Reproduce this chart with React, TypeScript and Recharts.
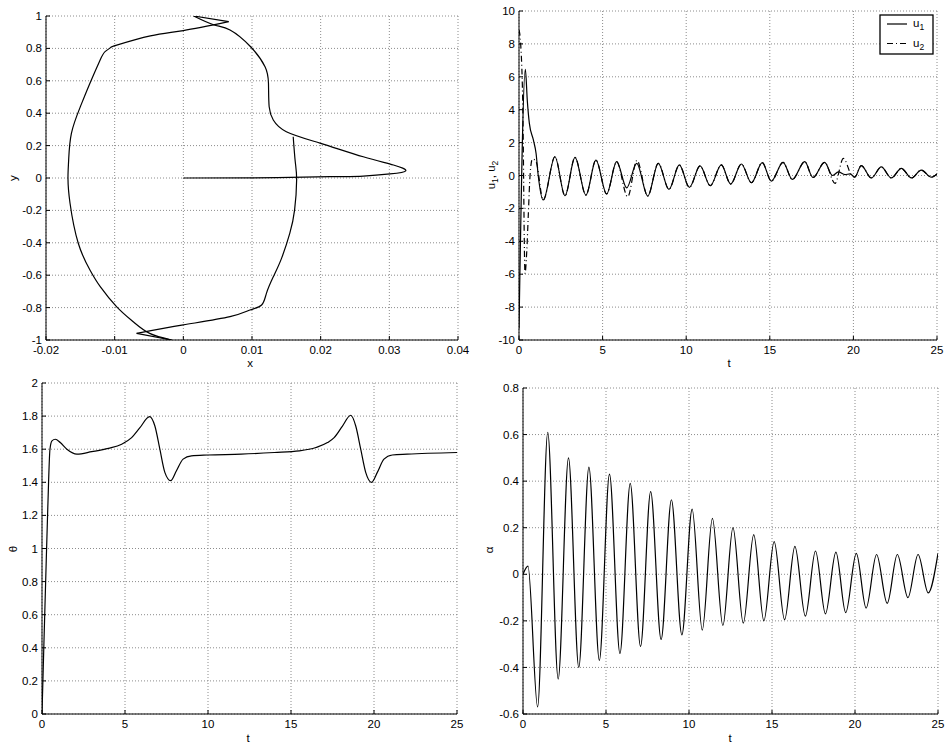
import React from "react";
import { CartesianGrid, Line, LineChart, XAxis, YAxis } from "recharts";

const FONT = '"Liberation Sans", Arial, Helvetica, sans-serif';

// top left: trajectory in the x-y plane (in drawing order)
const trajX = [
  0, 0.01, 0.0214, 0.0262, 0.0301, 0.0324, 0.0306, 0.0262, 0.02, 0.015, 0.0131, 0.0125, 0.0124, 0.0119,
  0.0098, 0.0068, 0.0044, 0.0015, 0.0066, 0, -0.0048, -0.0097, -0.0106, -0.0114, -0.0121, -0.0136, -0.015,
  -0.0163, -0.0167, -0.0168, -0.0165, -0.0153, -0.0136, -0.0121, -0.0097, -0.0073, -0.0049, -0.0017,
  -0.0068, 0, 0.0068, 0.0097, 0.0114, 0.0121, 0.0131, 0.0143, 0.0155, 0.0162, 0.0165, 0.0163, 0.016
];
const trajY = [
  0, 0.001, 0.008, 0.012, 0.025, 0.045, 0.08, 0.131, 0.214, 0.286, 0.358, 0.44, 0.584, 0.687,
  0.81, 0.914, 0.946, 1.0, 0.965, 0.91, 0.877, 0.82, 0.805, 0.78, 0.73, 0.585, 0.44,
  0.276, 0.111, 0, -0.156, -0.403, -0.568, -0.671, -0.795, -0.887, -0.959, -1.0,
  -0.959, -0.907, -0.856, -0.815, -0.784, -0.712, -0.61, -0.496, -0.342, -0.198, -0.012, 0.1, 0.255
];
// indices where the path turns sharply (top and bottom wedges)
const trajCorners = [17, 18, 37, 38];
const trajTicksX = [-0.02, -0.01, 0, 0.01, 0.02, 0.03, 0.04];
const trajTicksY = [-1, -0.8, -0.6, -0.4, -0.2, 0, 0.2, 0.4, 0.6, 0.8, 1];

// top right: controls u1 (solid) and u2 (dash-dot)
const u1T = [
  0, 0.38, 0.5, 0.62, 0.86, 1.02, 1.15, 1.45, 2.15, 2.75, 3.35, 4.0, 4.6, 5.24, 5.84, 6.44, 7.04, 7.7,
  8.33, 8.97, 9.59, 10.19, 10.83, 11.44, 12.1, 12.66, 13.3, 13.9, 14.55, 15.09, 15.79, 16.35, 17.09,
  17.58, 18.28, 18.75, 19.1, 19.5, 19.8, 20.08, 20.47, 21.07, 21.67, 22.27, 22.87, 23.47, 24.06, 24.66, 25
];
const u1V = [
  -9.3, 6.45, 4.5, 3.17, 2.16, 1.35, 0, -1.49, 1.14, -1.23, 1.1, -1.19, 0.94, -1.12, 0.84, -0.75, 0.74, -1.25,
  0.74, -0.84, 0.64, -0.72, 0.58, -0.62, 0.64, -0.52, 0.7, -0.44, 0.78, -0.34, 0.8, -0.24, 0.84,
  -0.12, 0.8, 0.0, 0.22, 0.05, 0.1, -0.1, 0.6, -0.15, 0.52, -0.15, 0.43, -0.15, 0.33, -0.1, 0.1
];
const u2T = [
  0, 0.1, 0.22, 0.36, 0.46, 0.56, 0.66, 0.8, 1.0, 1.45, 2.15, 2.75, 3.35, 4.0, 4.6, 5.24, 5.84, 6.5, 7.05,
  7.7, 8.33, 8.97, 9.59, 10.19, 10.83, 11.44, 12.1, 12.66, 13.3, 13.9, 14.55, 15.09, 15.79, 16.35, 17.09,
  17.58, 18.28, 18.9, 19.4, 19.9, 20.08, 20.47, 21.07, 21.67, 22.27, 22.87, 23.47, 24.06, 24.66, 25
];
const u2V = [
  8.85, 8.0, 4.6, -5.95, -4.7, -2.3, 0, 1.0, 0.9, -1.49, 1.14, -1.23, 1.1, -1.19, 0.94, -1.12, 0.84, -1.3, 0.92,
  -1.25, 0.74, -0.84, 0.64, -0.72, 0.58, -0.62, 0.64, -0.52, 0.7, -0.44, 0.78, -0.34, 0.8, -0.24, 0.84,
  -0.12, 0.8, -0.48, 1.04, 0.0, -0.1, 0.6, -0.15, 0.52, -0.15, 0.43, -0.15, 0.33, -0.1, 0.1
];
const uTicksY = [-10, -8, -6, -4, -2, 0, 2, 4, 6, 8, 10];
const tTicks = [0, 5, 10, 15, 20, 25];

// bottom left: theta
const thetaT = [
  0, 0.1, 0.22, 0.35, 0.48, 0.6, 0.8, 1.1, 1.5, 2.1, 3, 4, 4.8, 5.4, 5.9, 6.48, 6.8, 7.1, 7.4, 7.75, 8.1,
  8.5, 9, 10, 12, 14, 15.5, 16.5, 17.2, 17.6, 18.1, 18.6, 18.9, 19.2, 19.5, 19.85, 20.2, 20.6, 21.1, 22, 25
];
const thetaV = [
  0, 0.37, 0.8, 1.25, 1.6, 1.65, 1.66, 1.64, 1.6, 1.57, 1.585, 1.605, 1.63, 1.67, 1.73, 1.797, 1.74, 1.6,
  1.46, 1.41, 1.47, 1.54, 1.56, 1.565, 1.57, 1.58, 1.59, 1.61, 1.64, 1.67, 1.74, 1.805, 1.74, 1.6, 1.46,
  1.4, 1.46, 1.54, 1.565, 1.57, 1.58
];
const thetaTicks = [0, 0.2, 0.4, 0.6, 0.8, 1, 1.2, 1.4, 1.6, 1.8, 2];

// bottom right: alpha
const alphaT = [
  0, 0.3, 0.88, 1.49, 2.12, 2.74, 3.36, 3.97, 4.6, 5.21, 5.84, 6.46, 7.08, 7.69, 8.32, 8.94, 9.57, 10.19,
  10.8, 11.41, 12.04, 12.65, 13.27, 13.9, 14.51, 15.13, 15.76, 16.38, 17.01, 17.62, 18.22, 18.85, 19.44,
  20.08, 20.67, 21.3, 21.94, 22.55, 23.19, 23.8, 24.41, 25
];
const alphaV = [
  0, 0.035, -0.57, 0.61, -0.45, 0.5, -0.4, 0.46, -0.37, 0.43, -0.34, 0.39, -0.31, 0.355, -0.28, 0.32, -0.26,
  0.28, -0.24, 0.24, -0.22, 0.2, -0.21, 0.17, -0.2, 0.14, -0.195, 0.12, -0.18, 0.1, -0.17, 0.095, -0.165,
  0.09, -0.145, 0.085, -0.125, 0.085, -0.1, 0.085, -0.08, 0.09
];
const alphaTicks = [-0.6, -0.4, -0.2, 0, 0.2, 0.4, 0.6, 0.8];

type Pt = { x: number; y: number };
const zip = (xs: number[], ys: number[]): Pt[] => xs.map((x, i) => ({ x, y: ys[i] }));

type Curve = "linear" | "monotone" | "natural";

interface Series {
  data: Pt[];
  curve: Curve;
  dash?: string;
}

// split the trajectory at its sharp corners: smooth pieces between, straight pieces across the wedges
function trajectorySeries(): Series[] {
  const pts = zip(trajX, trajY);
  const cuts = [0, ...trajCorners, pts.length - 1];
  const out: Series[] = [];
  for (let i = 0; i < cuts.length - 1; i++) {
    const piece = pts.slice(cuts[i], cuts[i + 1] + 1);
    out.push({ data: piece, curve: piece.length > 2 ? "natural" : "linear" });
  }
  return out;
}

interface PanelProps {
  left: number;
  top: number;
  width: number;
  height: number;
  xDomain: [number, number];
  yDomain: [number, number];
  xTicks: number[];
  yTicks: number[];
  series: Series[];
}

const tickStyle = { fill: "#000", fontSize: 11.5, fontFamily: FONT };

function Panel({ left, top, width, height, xDomain, yDomain, xTicks, yTicks, series }: PanelProps) {
  const YW = 44;
  const MT = 10;
  const MR = 14;
  const XH = 24;
  return (
    <div style={{ position: "absolute", left: left - YW, top: top - MT }}>
      <LineChart
        width={YW + width + MR}
        height={MT + height + XH}
        margin={{ top: MT, right: MR, bottom: 0, left: 0 }}
      >
        <CartesianGrid stroke="#8c8c8c" strokeDasharray="1 2" />
        <XAxis
          dataKey="x"
          type="number"
          domain={xDomain}
          ticks={xTicks}
          interval={0}
          allowDataOverflow
          height={XH}
          tickSize={-4}
          tickMargin={10}
          axisLine={{ stroke: "#000" }}
          tickLine={{ stroke: "#000" }}
          tick={tickStyle}
        />
        <YAxis
          type="number"
          domain={yDomain}
          ticks={yTicks}
          interval={0}
          allowDataOverflow
          width={YW}
          tickSize={-4}
          tickMargin={8}
          axisLine={{ stroke: "#000" }}
          tickLine={{ stroke: "#000" }}
          tick={tickStyle}
        />
        {series.map((s, i) => (
          <Line
            key={i}
            data={s.data}
            dataKey="y"
            type={s.curve}
            stroke="#000"
            strokeWidth={1.2}
            strokeDasharray={s.dash}
            dot={false}
            activeDot={false}
            isAnimationActive={false}
          />
        ))}
      </LineChart>
    </div>
  );
}

export default function App() {
  const labelStyle = { fontFamily: FONT, fontSize: 11.5, fill: "#000" };
  return (
    <div
      style={{
        position: "absolute",
        left: 0,
        top: 0,
        width: 948,
        height: 747,
        background: "#fff",
        overflow: "hidden"
      }}
    >
      <Panel
        left={46}
        top={16}
        width={412}
        height={324}
        xDomain={[-0.02, 0.04]}
        yDomain={[-1, 1]}
        xTicks={trajTicksX}
        yTicks={trajTicksY}
        series={trajectorySeries()}
      />
      <Panel
        left={519}
        top={11}
        width={418}
        height={329}
        xDomain={[0, 25]}
        yDomain={[-10, 10]}
        xTicks={tTicks}
        yTicks={uTicksY}
        series={[
          { data: zip(u1T, u1V), curve: "monotone" },
          { data: zip(u2T, u2V), curve: "monotone", dash: "6 3 1 3" }
        ]}
      />
      <Panel
        left={42}
        top={383}
        width={415}
        height={331}
        xDomain={[0, 25]}
        yDomain={[0, 2]}
        xTicks={tTicks}
        yTicks={thetaTicks}
        series={[{ data: zip(thetaT, thetaV), curve: "monotone" }]}
      />
      <Panel
        left={522.5}
        top={388}
        width={415}
        height={326}
        xDomain={[0, 25]}
        yDomain={[-0.6, 0.8]}
        xTicks={tTicks}
        yTicks={alphaTicks}
        series={[{ data: zip(alphaT, alphaV), curve: "monotone" }]}
      />

      <svg
        width={948}
        height={747}
        style={{ position: "absolute", left: 0, top: 0, pointerEvents: "none" }}
      >
        <g style={labelStyle}>
          <text transform="translate(13,178) rotate(-90)" textAnchor="middle" dy="0.35em">y</text>
          <text x={250} y={367} textAnchor="middle">x</text>

          <text transform="translate(491,175) rotate(-90)" textAnchor="middle" dy="0.35em">
            u<tspan dy="3" fontSize="8.5">1</tspan>
            <tspan dy="-3">, u</tspan>
            <tspan dy="3" fontSize="8.5">2</tspan>
          </text>
          <text x={729} y={367} textAnchor="middle">t</text>

          <text transform="translate(13,549) rotate(-90)" textAnchor="middle" dy="0.35em">θ</text>
          <text x={248} y={742} textAnchor="middle">t</text>

          <text transform="translate(489,550) rotate(-90)" textAnchor="middle" dy="0.35em">α</text>
          <text x={730} y={742} textAnchor="middle">t</text>
        </g>

        <g>
          <rect x={880} y={15} width={53} height={39} fill="#fff" stroke="#000" strokeWidth={1.3} />
          <line x1={887} y1={24} x2={907} y2={24} stroke="#000" strokeWidth={1.2} />
          <line x1={887} y1={43.5} x2={907} y2={43.5} stroke="#000" strokeWidth={1.2} strokeDasharray="6 3 1 3" />
          <text x={913} y={27} style={labelStyle}>
            u<tspan dy="3" fontSize="8.5">1</tspan>
          </text>
          <text x={913} y={46.5} style={labelStyle}>
            u<tspan dy="3" fontSize="8.5">2</tspan>
          </text>
        </g>
      </svg>
    </div>
  );
}
